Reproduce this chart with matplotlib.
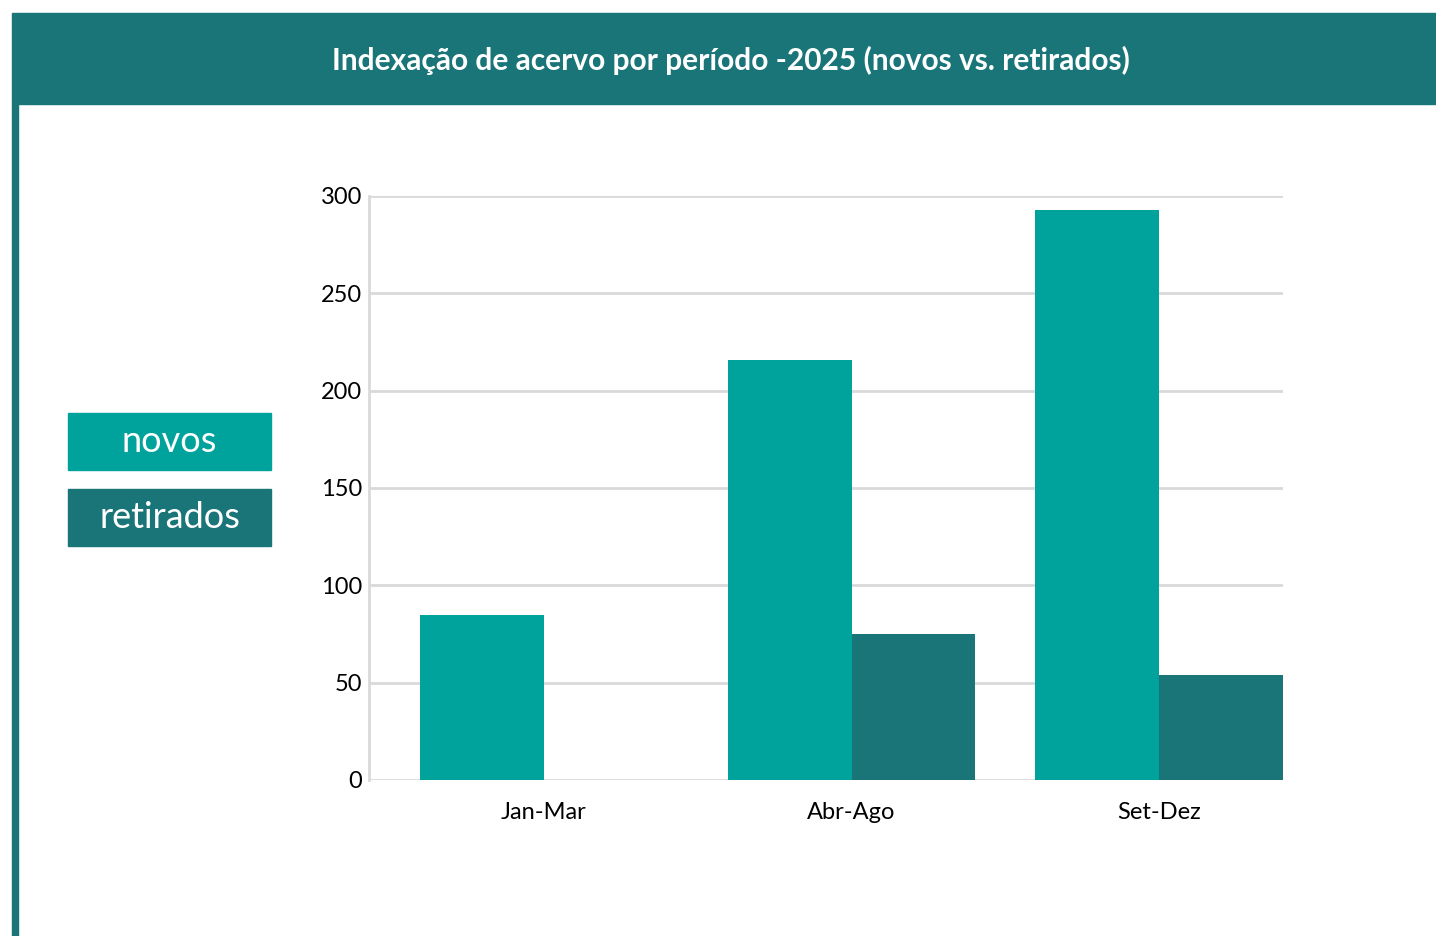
import matplotlib.pyplot as plt
from matplotlib.patches import Rectangle
import numpy as np

plt.rcParams['font.family'] = ['Lato', 'DejaVu Sans']

periodos = ['Jan-Mar', 'Abr-Ago', 'Set-Dez']
novos = [85, 216, 293]
retirados = [0, 75, 54]
series_names = ['novos', 'retirados']

cor_novos = '#00A39B'
cor_retirados = '#1A7579'
cor_grid = '#D9D9D9'

W, H = 1436, 936
fig = plt.figure(figsize=(W / 100, H / 100), dpi=100)

# header band and left border
fig.patches.append(Rectangle((12 / W, 1 - 104 / H), (W - 12) / W, 91 / H,
                             transform=fig.transFigure, color=cor_retirados, zorder=0))
fig.patches.append(Rectangle((12 / W, 0), 6 / W, 1 - 104 / H,
                             transform=fig.transFigure, color=cor_retirados, zorder=0))
fig.text(731 / W, 1 - 60 / H, 'Indexação de acervo por período -2025 (novos vs. retirados)',
         color='white', fontsize=21.5, fontweight='bold', ha='center', va='center')

ax = fig.add_axes([369 / W, 1 - 780 / H, (1283 - 369) / W, (780 - 196) / H])
x = np.arange(len(periodos))
w = 0.403
# novos sits left of category center, retirados right
ax.bar(x - w, novos, width=w, align='edge', color=cor_novos, zorder=3)
ax.bar(x, retirados, width=w, align='edge', color=cor_retirados, zorder=3)

ax.set_xlim(-0.569, 2.403)
ax.set_ylim(0, 300)
ax.set_yticks(range(0, 301, 50))
ax.set_xticks(x)
ax.set_xticklabels(periodos)
ax.yaxis.grid(True, color=cor_grid, linewidth=2, zorder=0)
ax.tick_params(axis='both', length=0, labelsize=17, colors='#000000')
ax.tick_params(axis='y', pad=5)
ax.tick_params(axis='x', pad=16)
for s in ['top', 'right', 'bottom']:
    ax.spines[s].set_visible(False)
ax.spines['left'].set_color(cor_grid)
ax.spines['left'].set_linewidth(2)

# legend boxes
for i, (nome, cor) in enumerate(zip(series_names, [cor_novos, cor_retirados])):
    y0 = 413 + i * 76
    fig.patches.append(Rectangle((68 / W, 1 - (y0 + 57) / H), 203 / W, 57 / H,
                                 transform=fig.transFigure, color=cor))
    fig.text(169.5 / W, 1 - (y0 + 28) / H, nome, color='white', fontsize=26,
             ha='center', va='center')

fig.savefig('out.png', dpi=100)
